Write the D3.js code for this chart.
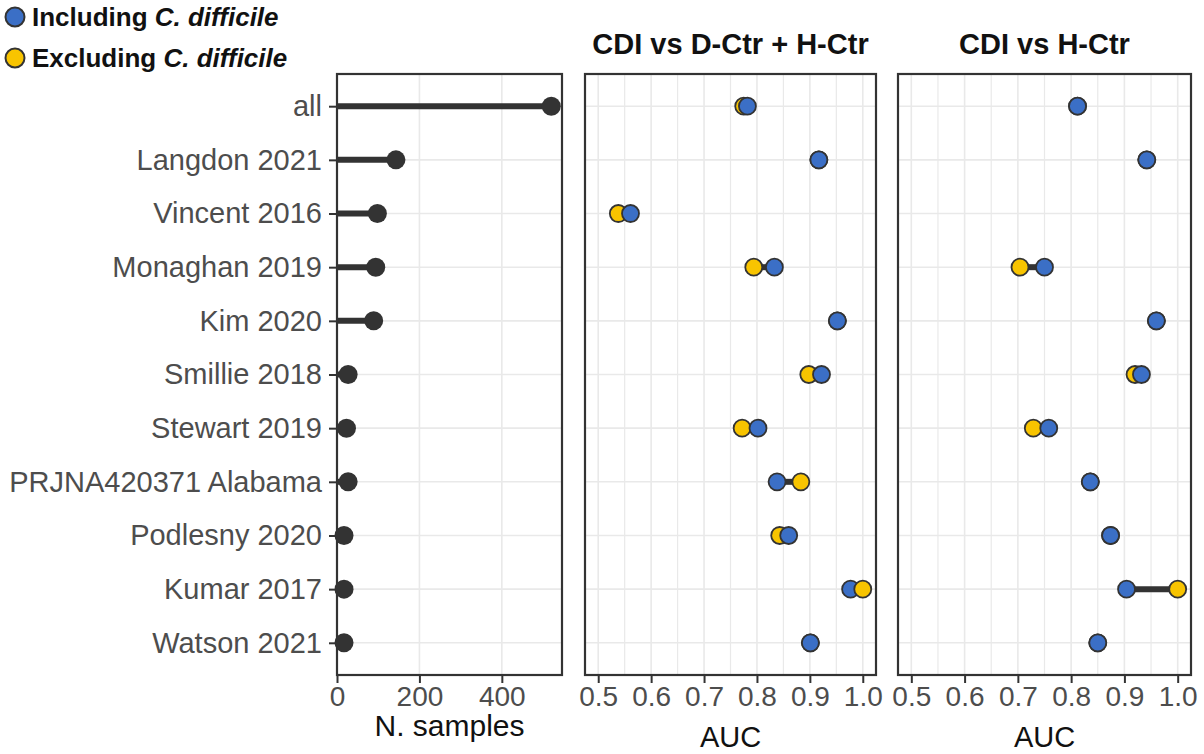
<!DOCTYPE html>
<html>
<head>
<meta charset="utf-8">
<script src="https://cdn.jsdelivr.net/npm/d3@7"></script>
<style>
  body { margin: 0; background: #fff; }
  text { font-family: "Liberation Sans", Arial, sans-serif; }
</style>
</head>
<body>
<svg id="chart" width="1204" height="754"></svg>
<script>
// data
const studies = ["all", "Langdon 2021", "Vincent 2016", "Monaghan 2019", "Kim 2020", "Smillie 2018",
  "Stewart 2019", "PRJNA420371 Alabama", "Podlesny 2020", "Kumar 2017", "Watson 2021"];
const nSamples = [520, 143, 98, 94, 89, 27, 23, 27, 17, 17, 17];
// CDI vs D-Ctr + H-Ctr
const aucAllInc = [0.782, 0.917, 0.561, 0.833, 0.952, 0.922, 0.802, 0.838, 0.860, 0.977, 0.901];
const aucAllExc = [0.775, 0.917, 0.538, 0.794, 0.952, 0.898, 0.772, 0.883, 0.843, 1.000, 0.901];
// CDI vs H-Ctr
const aucHInc = [0.812, 0.942, null, 0.750, 0.960, 0.932, 0.758, 0.836, 0.874, 0.904, 0.850];
const aucHExc = [0.812, 0.942, null, 0.704, 0.960, 0.920, 0.729, 0.836, 0.874, 1.000, 0.850];
const sampleTicks = [0, 200, 400];
const aucTicks = [0.5, 0.6, 0.7, 0.8, 0.9, 1.0];
const aucMinor = [0.55, 0.65, 0.75, 0.85, 0.95];
const legendLabels = ["Including", "Excluding"];

const blue = "#3b6fc6", yellow = "#f8c400", dark = "#333333", grid = "#e9e9e9";
const svg = d3.select("#chart");
const yTop = 74, yBot = 675;

let y = d3.scalePoint().domain(studies).range([yTop, yBot]).padding(0.6);

// panel 1: number of samples
let x1 = d3.scaleLinear().domain([0, 546]).range([337, 562]);
let xA = d3.scaleLinear().domain([0.475, 1.025]).range([585, 876]);
let xB = d3.scaleLinear().domain([0.475, 1.025]).range([898, 1191]);

function panelBase(x, major, minor) {
  let [x0, x1r] = x.range();
  let g = svg.append("g");
  g.selectAll(".hg").data(studies).join("line")
    .attr("x1", x0).attr("x2", x1r).attr("y1", d => y(d)).attr("y2", d => y(d))
    .attr("stroke", grid).attr("stroke-width", 1.6);
  g.selectAll(".mg").data(minor).join("line")
    .attr("x1", d => x(d)).attr("x2", d => x(d)).attr("y1", yTop).attr("y2", yBot)
    .attr("stroke", grid).attr("stroke-width", 1.2);
  g.selectAll(".vg").data(major).join("line")
    .attr("x1", d => x(d)).attr("x2", d => x(d)).attr("y1", yTop).attr("y2", yBot)
    .attr("stroke", grid).attr("stroke-width", 1.6);
  // x axis
  let ax = g.append("g").attr("transform", `translate(0,${yBot + 1})`)
    .call(d3.axisBottom(x).tickValues(major).tickSize(7).tickPadding(3)
      .tickFormat(x.domain()[1] > 2 ? d3.format("d") : d3.format(".1f")));
  ax.select(".domain").remove();
  ax.selectAll("line").attr("stroke", dark).attr("stroke-width", 2);
  ax.selectAll("text").attr("font-size", 28).attr("fill", "#4d4d4d")
    .attr("font-family", "Liberation Sans, Arial, sans-serif");
  return g;
}

function frame(x) {
  let [x0, x1r] = x.range();
  svg.append("rect").attr("x", x0).attr("y", yTop).attr("width", x1r - x0).attr("height", yBot - yTop)
    .attr("fill", "none").attr("stroke", dark).attr("stroke-width", 2.2);
}

// panel 1
panelBase(x1, sampleTicks, []);
let yAx = svg.append("g").attr("transform", `translate(${x1.range()[0]},0)`)
  .call(d3.axisLeft(y).tickSize(8).tickPadding(7));
yAx.select(".domain").remove();
yAx.selectAll("line").attr("stroke", dark).attr("stroke-width", 2);
yAx.selectAll("text").attr("font-size", 29).attr("fill", "#4d4d4d")
  .attr("font-family", "Liberation Sans, Arial, sans-serif");

let lol = studies.map((s, i) => ({ s, n: nSamples[i] }));
svg.append("g").selectAll("line").data(lol).join("line")
  .attr("x1", x1(0)).attr("x2", d => x1(d.n)).attr("y1", d => y(d.s)).attr("y2", d => y(d.s))
  .attr("stroke", dark).attr("stroke-width", 6);
svg.append("g").selectAll("circle").data(lol).join("circle")
  .attr("cx", d => x1(d.n)).attr("cy", d => y(d.s)).attr("r", 9.5).attr("fill", dark);
frame(x1);

// AUC panels
function aucPanel(x, inc, exc, title) {
  panelBase(x, aucTicks, aucMinor);
  let rows = studies.map((s, i) => ({ s, inc: inc[i], exc: exc[i] })).filter(d => d.inc != null);
  svg.append("g").selectAll("line").data(rows).join("line")
    .attr("x1", d => x(d.inc)).attr("x2", d => x(d.exc)).attr("y1", d => y(d.s)).attr("y2", d => y(d.s))
    .attr("stroke", dark).attr("stroke-width", 6);
  let pts = [];
  rows.forEach(d => {
    let pair = [{ s: d.s, v: d.exc, c: yellow }, { s: d.s, v: d.inc, c: blue }];
    pair.sort((a, b) => a.v - b.v || (a.c === yellow ? -1 : 1));
    pts.push(...pair);
  });
  svg.append("g").selectAll("circle").data(pts).join("circle")
    .attr("cx", d => x(d.v)).attr("cy", d => y(d.s)).attr("r", 8.5)
    .attr("fill", d => d.c).attr("stroke", dark).attr("stroke-width", 1.8);
  frame(x);
  let cx = d3.mean(x.range());
  svg.append("text").attr("x", cx).attr("y", 54).attr("text-anchor", "middle")
    .attr("font-size", 29).attr("font-weight", "bold").attr("fill", "#111").text(title);
  svg.append("text").attr("x", cx).attr("y", 747).attr("text-anchor", "middle")
    .attr("font-size", 29).attr("fill", "#111").text("AUC");
}
aucPanel(xA, aucAllInc, aucAllExc, "CDI vs D-Ctr + H-Ctr");
aucPanel(xB, aucHInc, aucHExc, "CDI vs H-Ctr");

svg.append("text").attr("x", d3.mean(x1.range())).attr("y", 736).attr("text-anchor", "middle")
  .attr("font-size", 30).attr("fill", "#111").text("N. samples");

// legend
let leg = svg.append("g").selectAll("g").data(legendLabels).join("g")
  .attr("transform", (d, i) => `translate(15,${17 + i * 41})`);
leg.append("circle").attr("r", 9.5).attr("fill", (d, i) => i ? yellow : blue)
  .attr("stroke", dark).attr("stroke-width", 2);
let lt = leg.append("text").attr("x", 17).attr("y", 9).attr("font-size", 26)
  .attr("font-weight", "bold").attr("fill", "#111");
lt.append("tspan").text(d => d + " ");
lt.append("tspan").attr("font-style", "italic").text("C. difficile");
</script>
</body>
</html>
